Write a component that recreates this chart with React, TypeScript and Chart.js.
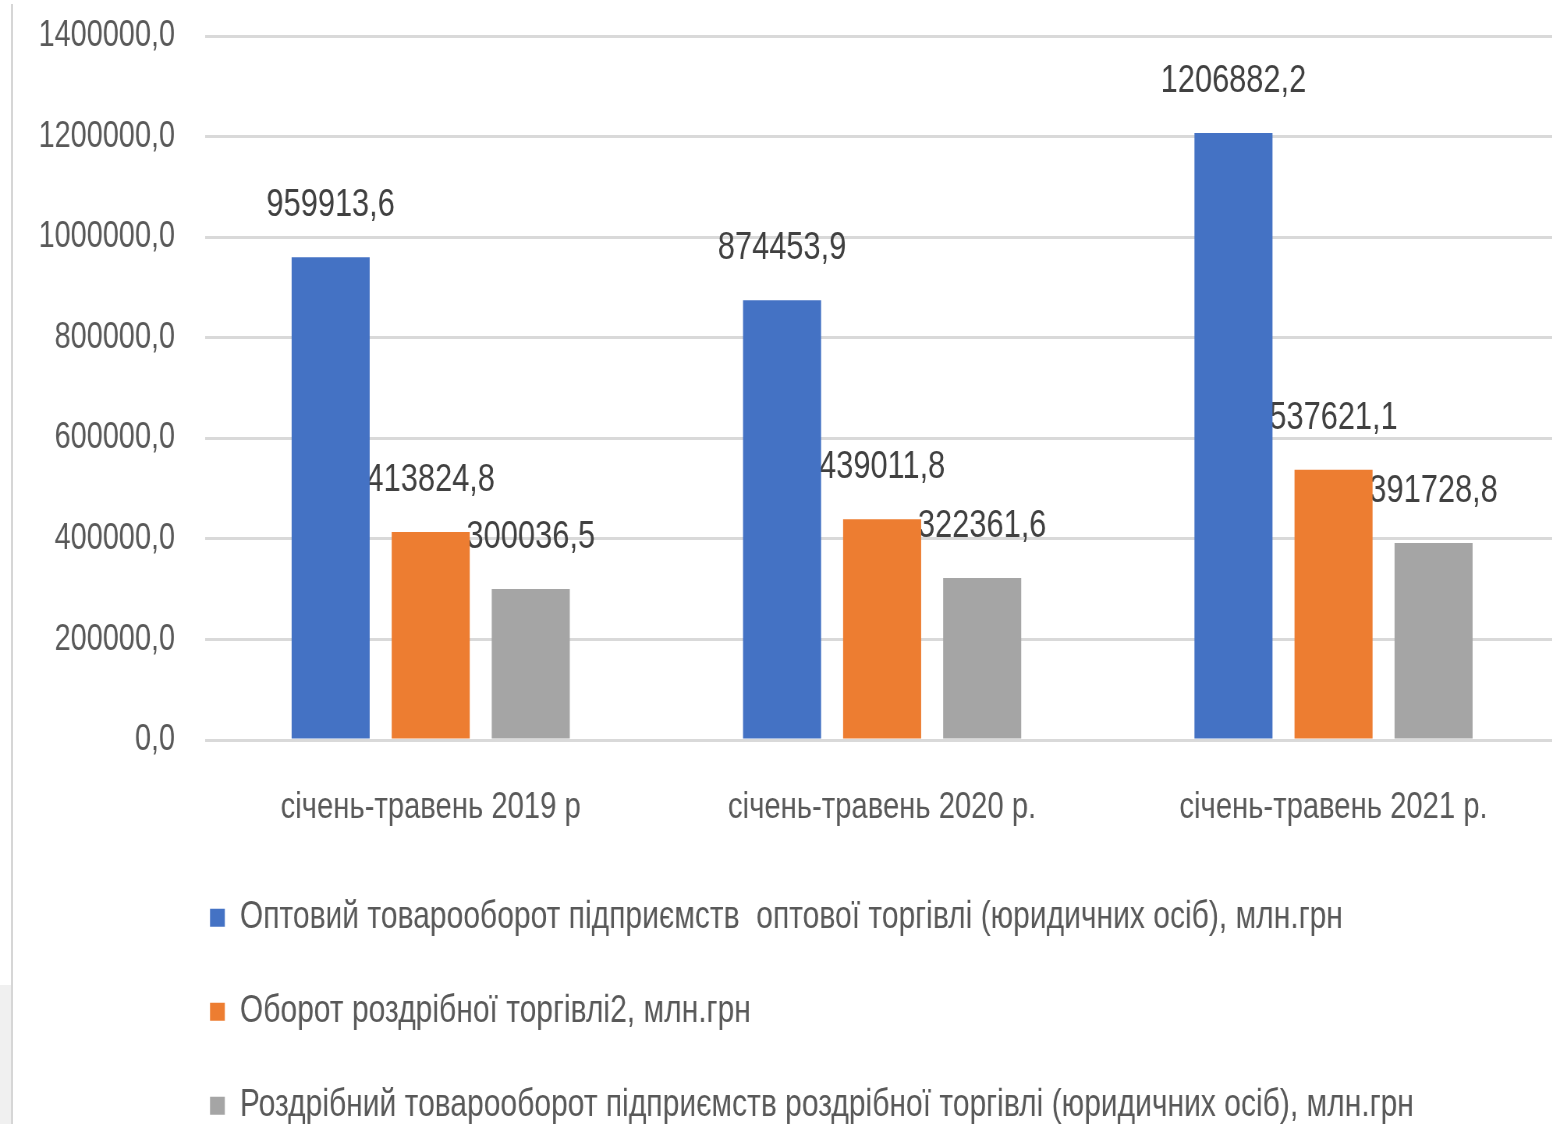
import React, { useEffect, useRef } from "react";
import { Chart, registerables } from "chart.js";

Chart.register(...registerables);

const FONT = "'Liberation Sans', Arial, sans-serif";

const categories = [
  "січень-травень 2019 р",
  "січень-травень 2020 р.",
  "січень-травень 2021 р.",
];

const seriesNames = [
  "Оптовий товарооборот підприємств  оптової торгівлі (юридичних осіб), млн.грн",
  "Оборот роздрібної торгівлі2, млн.грн",
  "Роздрібний товарооборот підприємств роздрібної торгівлі (юридичних осіб), млн.грн",
];

const wholesaleTurnover = [959913.6, 874453.9, 1206882.2];
const retailTurnover = [413824.8, 439011.8, 537621.1];
const retailEnterpriseTurnover = [300036.5, 322361.6, 391728.8];

const yTickValues = [0, 200000, 400000, 600000, 800000, 1000000, 1200000, 1400000];

const seriesColors = ["#4472C4", "#ED7D31", "#A5A5A5"];

const fmt = (v: number) => v.toFixed(1).replace(".", ",");

// the reference text is horizontally condensed: draw on a wider canvas, squeeze it
const SQUEEZE = 0.78;
const PAGE_W = 1552;
const PAGE_H = 1124;
const CANVAS_W = Math.round(1559 / SQUEEZE);
const CANVAS_H = 1135;
const px = (pagePx: number) => pagePx / SQUEEZE;
const LEGEND_PAD = 55.5;

export default function App() {
  const ref = useRef<HTMLCanvasElement | null>(null);

  useEffect(() => {
    if (!ref.current) return;

    const valueLabels = {
      id: "valueLabels",
      beforeDatasetsDraw(chart: any) {
        const ctx = chart.ctx;
        ctx.save();
        ctx.font = `39.5px ${FONT}`;
        ctx.fillStyle = "#404040";
        ctx.textAlign = "center";
        ctx.textBaseline = "middle";
        chart.data.datasets.forEach((ds: any, i: number) => {
          const meta = chart.getDatasetMeta(i);
          meta.data.forEach((bar: any, j: number) => {
            ctx.fillText(fmt(ds.data[j]), bar.x, bar.y - 52);
          });
        });
        ctx.restore();
      },
    };

    const legendShift = {
      id: "legendShift",
      afterLayout(chart: any) {
        if (chart.legend) {
          const w = chart.legend.right - chart.legend.left;
          const left = px(210) - LEGEND_PAD;
          chart.legend.left = left;
          chart.legend.right = left + w;
        }
      },
    };

    const datasets = [wholesaleTurnover, retailTurnover, retailEnterpriseTurnover].map(
      (data, i) => ({
        label: seriesNames[i],
        data,
        backgroundColor: seriesColors[i],
        borderWidth: 0,
        categoryPercentage: 0.665,
        barPercentage: 0.78,
      })
    );

    const chart = new Chart(ref.current, {
      type: "bar",
      data: { labels: categories, datasets },
      options: {
        responsive: false,
        animation: false,
        devicePixelRatio: 1,
        layout: { padding: { top: 36, left: 0, right: 0, bottom: 0 } },
        plugins: {
          tooltip: { enabled: false },
          legend: {
            position: "bottom",
            align: "start",
            labels: {
              font: { family: FONT, size: 38.5 },
              color: "#595959",
              boxWidth: Math.round(px(15)),
              boxHeight: 18,
              padding: LEGEND_PAD,
            },
          },
        },
        scales: {
          x: {
            grid: { display: false },
            border: { display: false },
            ticks: {
              font: { family: FONT, size: 37.5 },
              color: "#595959",
              padding: 37,
              maxRotation: 0,
              autoSkip: false,
            },
            afterFit(scale: any) {
              scale.height = 103;
              scale.paddingLeft = 0;
              scale.paddingRight = 0;
            },
          },
          y: {
            min: 0,
            max: 1400000,
            grid: { color: "#d9d9d9", lineWidth: 3, drawTicks: false },
            border: { display: false },
            ticks: {
              font: { family: FONT, size: 37 },
              color: "#595959",
              padding: px(30),
              callback: (v: any) => fmt(Number(v)),
            },
            afterBuildTicks(scale: any) {
              scale.ticks = yTickValues.map((value) => ({ value }));
            },
            afterFit(scale: any) {
              scale.width = px(205);
              scale.paddingTop = 0;
              scale.paddingBottom = 0;
            },
          },
        },
      },
      plugins: [valueLabels, legendShift],
    });

    return () => chart.destroy();
  }, []);

  return (
    <div
      style={{
        position: "absolute",
        left: 0,
        top: 0,
        width: PAGE_W,
        height: PAGE_H,
        overflow: "hidden",
        background: "#ffffff",
      }}
    >
      <div
        style={{
          position: "absolute",
          left: 0,
          top: 985,
          width: 11,
          height: 139,
          background: "#f0f0f0",
        }}
      />
      <div
        style={{
          position: "absolute",
          left: 11,
          top: 4,
          width: 2,
          height: 1120,
          background: "#d6d6d6",
        }}
      />
      <div
        style={{
          position: "absolute",
          left: 0,
          top: 0,
          width: CANVAS_W,
          height: CANVAS_H,
          transform: `scaleX(${SQUEEZE})`,
          transformOrigin: "0 0",
        }}
      >
        <canvas
          ref={ref}
          width={CANVAS_W}
          height={CANVAS_H}
          style={{ display: "block", width: CANVAS_W, height: CANVAS_H }}
        />
      </div>
    </div>
  );
}
